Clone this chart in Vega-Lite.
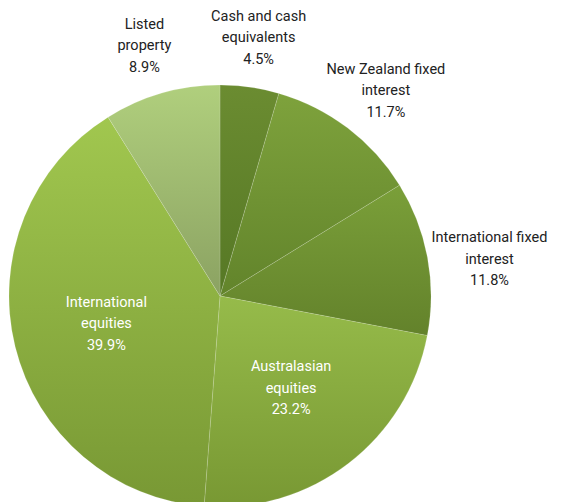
{
  "$schema": "https://vega.github.io/schema/vega-lite/v6.json",
  "width": 422,
  "height": 422,
  "autosize": {"type": "none"},
  "padding": {"left": 9, "top": 85, "right": 140, "bottom": 0},
  "background": "white",
  "config": {"view": {"stroke": null}, "text": {"font": "Roboto"}},
  "data": {
    "values": [
      {"order": 1, "name": "Cash and cash equivalents", "label": ["Cash and cash", "equivalents", "4.5%"], "value": 4.5, "inside": false},
      {"order": 2, "name": "New Zealand fixed interest", "label": ["New Zealand fixed", "interest", "11.7%"], "value": 11.7, "inside": false},
      {"order": 3, "name": "International fixed interest", "label": ["International fixed", "interest", "11.8%"], "value": 11.8, "inside": false},
      {"order": 4, "name": "Australasian equities", "label": ["Australasian", "equities", "23.2%"], "value": 23.2, "inside": true},
      {"order": 5, "name": "International equities", "label": ["International", "equities", "39.9%"], "value": 39.9, "inside": true},
      {"order": 6, "name": "Listed property", "label": ["Listed", "property", "8.9%"], "value": 8.9, "inside": false}
    ]
  },
  "encoding": {
    "theta": {"field": "value", "type": "quantitative", "stack": true},
    "order": {"field": "order", "type": "quantitative"}
  },
  "layer": [
    {
      "mark": {"type": "arc", "outerRadius": 211, "stroke": "#ffffff", "strokeOpacity": 0.3, "strokeWidth": 0.5},
      "encoding": {
        "fill": {
          "condition": [
            {"test": "datum.order === 1", "value": {"gradient": "linear", "x1": 0, "y1": 0, "x2": 0, "y2": 1, "stops": [{"offset": 0, "color": "#6b8c31"}, {"offset": 1, "color": "#567825"}]}},
            {"test": "datum.order === 2", "value": {"gradient": "linear", "x1": 0, "y1": 0, "x2": 0, "y2": 1, "stops": [{"offset": 0, "color": "#7ea23c"}, {"offset": 1, "color": "#62842b"}]}},
            {"test": "datum.order === 3", "value": {"gradient": "linear", "x1": 0, "y1": 0, "x2": 0, "y2": 1, "stops": [{"offset": 0, "color": "#7a9f39"}, {"offset": 1, "color": "#63822b"}]}},
            {"test": "datum.order === 4", "value": {"gradient": "linear", "x1": 0, "y1": 0, "x2": 0, "y2": 1, "stops": [{"offset": 0, "color": "#96bb4a"}, {"offset": 1, "color": "#789833"}]}},
            {"test": "datum.order === 5", "value": {"gradient": "linear", "x1": 0, "y1": 0, "x2": 0, "y2": 1, "stops": [{"offset": 0, "color": "#a1c74f"}, {"offset": 1, "color": "#789834"}]}}
          ],
          "value": {"gradient": "linear", "x1": 0, "y1": 0, "x2": 0, "y2": 1, "stops": [{"offset": 0, "color": "#b0cf7d"}, {"offset": 1, "color": "#8ba262"}]}
        }
      }
    },
    {
      "mark": {"type": "text", "radius": 274, "dy": -8, "fontSize": 14.5, "lineHeight": 21.5, "align": "center", "baseline": "middle", "color": "#222222"},
      "encoding": {"text": {"condition": {"test": "datum.inside", "value": ""}, "field": "label"}}
    },
    {
      "mark": {"type": "text", "radius": 117, "dy": -21.5, "fontSize": 14.5, "lineHeight": 21.5, "align": "center", "baseline": "middle", "color": "#ffffff"},
      "encoding": {"text": {"condition": {"test": "!datum.inside", "value": ""}, "field": "label"}}
    }
  ]
}
